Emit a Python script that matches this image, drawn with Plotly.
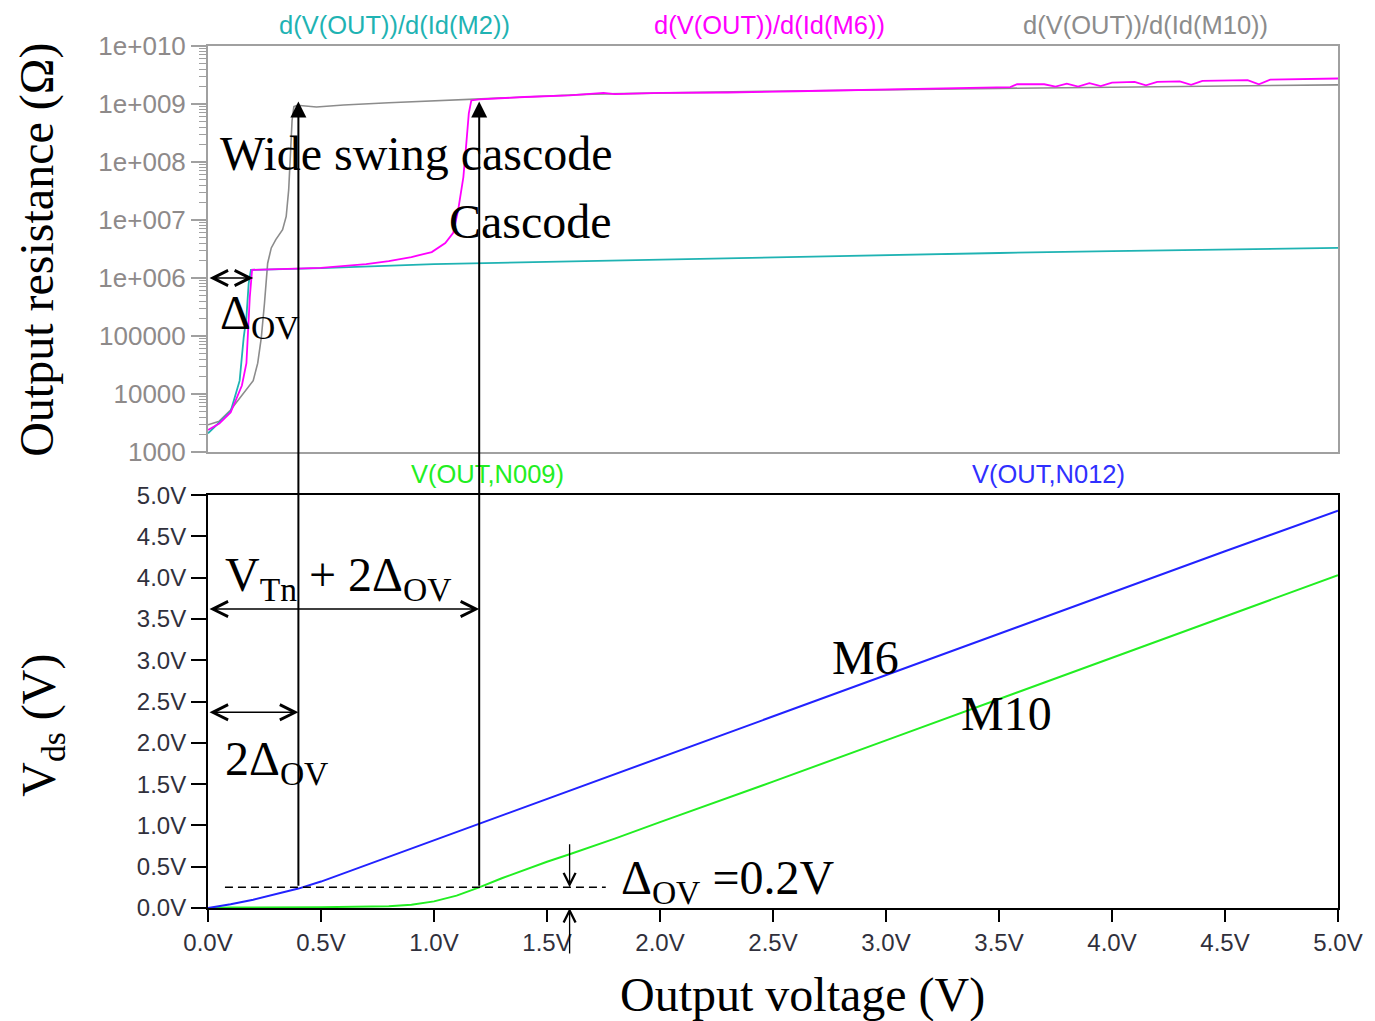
import math
import plotly.graph_objects as go

# ---------------- data ----------------
# top panel: output resistance (ohm) vs output voltage (V)
m2_x = [0, 0.05, 0.1, 0.14, 0.158, 0.17, 0.18, 0.19, 0.5, 1.0, 1.5, 2.0, 2.5, 3.0, 3.5, 4.0, 4.5, 5.0]
m2_r = [2100, 3200, 5000, 17000, 95000, 2.1e5, 8.1e5, 1.38e6, 1.48e6, 1.74e6, 1.9e6, 2.1e6,
        2.3e6, 2.5e6, 2.7e6, 2.9e6, 3.1e6, 3.3e6]

m6_x = [0, 0.05, 0.1, 0.15, 0.17, 0.185, 0.195, 0.5, 0.7, 0.8, 0.9, 0.99, 1.05, 1.085, 1.107,
        1.13, 1.143, 1.154, 1.165, 1.2, 1.4, 1.6, 1.75, 1.8, 2.0, 2.3, 2.6, 2.9, 3.1, 3.4,
        3.55, 3.58, 3.7, 3.75, 3.8, 3.85, 3.9, 3.95, 4.0, 4.1, 4.15, 4.2, 4.3, 4.35, 4.4,
        4.6, 4.65, 4.7, 4.95, 5.0]
m6_r = [2400, 3100, 4800, 14000, 34000, 4.7e5, 1.38e6, 1.5e6, 1.74e6, 1.95e6, 2.3e6, 2.8e6,
        4.0e6, 6.0e6, 1.5e7, 5.5e7, 2.1e8, 6.9e8, 1.15e9, 1.2e9, 1.32e9, 1.41e9, 1.55e9, 1.48e9,
        1.55e9, 1.58e9, 1.66e9, 1.74e9, 1.82e9, 1.91e9, 1.95e9, 2.19e9, 2.19e9, 2.0e9, 2.24e9,
        2.0e9, 2.29e9, 2.04e9, 2.34e9, 2.4e9, 2.09e9, 2.4e9, 2.45e9, 2.14e9, 2.51e9, 2.57e9,
        2.19e9, 2.63e9, 2.69e9, 2.75e9]

m10_x = [0, 0.05, 0.1, 0.17, 0.2, 0.22, 0.236, 0.25, 0.264, 0.28, 0.3, 0.33, 0.346, 0.357,
         0.365, 0.372, 0.38, 0.395, 0.48, 0.6, 0.8, 1.2, 1.7, 2.5, 3.0, 3.5, 4.0, 4.5, 5.0]
m10_r = [2950, 3400, 5300, 11700, 17000, 34000, 95000, 3.7e5, 1.8e6, 3.3e6, 4.6e6, 6.8e6,
         1.15e7, 3.3e7, 1.8e8, 5.2e8, 9.0e8, 9.5e8, 8.9e8, 9.6e8, 1.05e9, 1.23e9, 1.48e9,
         1.66e9, 1.78e9, 1.86e9, 1.95e9, 2.04e9, 2.14e9]

# bottom panel: Vds (V) vs output voltage (V)
n012_x = [0, 0.1, 0.2, 0.3, 0.4, 0.5, 0.6, 0.7, 0.8, 1.0, 1.2, 1.5, 2.0, 2.5, 3.0, 3.5, 4.0, 4.5, 5.0]
n012_v = [0, 0.045, 0.1, 0.165, 0.235, 0.32, 0.42, 0.52, 0.62, 0.82, 1.02, 1.32, 1.82, 2.32,
          2.82, 3.32, 3.82, 4.32, 4.81]

n009_x = [0, 0.1, 0.5, 0.8, 0.9, 1.0, 1.1, 1.2, 1.3, 1.4, 1.5, 1.6, 1.8, 2.0, 2.5, 3.0, 3.5,
          4.0, 4.5, 5.0]
n009_v = [0, 0.005, 0.01, 0.02, 0.04, 0.08, 0.15, 0.25, 0.36, 0.46, 0.56, 0.65, 0.84, 1.04,
          1.53, 2.03, 2.53, 3.03, 3.53, 4.03]

top_tick_vals = [1e3, 1e4, 1e5, 1e6, 1e7, 1e8, 1e9, 1e10]
top_tick_text = ["1000", "10000", "100000", "1e+006", "1e+007", "1e+008", "1e+009", "1e+010"]
v_ticks = [0, 0.5, 1.0, 1.5, 2.0, 2.5, 3.0, 3.5, 4.0, 4.5, 5.0]
v_tick_text = ["%.1fV" % v for v in v_ticks]

# annotation anchor values
x_wide = 0.4      # wide swing cascode knee (V)
x_casc = 1.2      # cascode knee (V)
x_ov = 0.2        # overdrive
v_level = 0.25    # dashed level
r_arrow = 1.1e9

# ---------------- styling ----------------
OFF = 8                      # page body margin in the browser
W, H = 1375 - OFF, 1021 - OFF
ML, MR, MT, MB = 200, 25, 46 - OFF, 113
TOP_D0 = 0.529
BOT_D1 = 0.479
SERIF = "Liberation Serif, Times New Roman, serif"
SANS = "Liberation Sans, Arial, sans-serif"
TOP_GRAY = "#a0a0a0"
BIG = 48

PW = W - ML - MR
PH = H - MT - MB


def px(xpix):
    return (xpix - OFF - ML) / PW


def py(ypix):
    return (H - MB - (ypix - OFF)) / PH


def top_frac(r):
    return TOP_D0 + (math.log10(r) - 3) / 7 * (1 - TOP_D0)


def frac_to_y2(f):
    # paper fraction expressed in bottom-axis (y2) data units
    return f / BOT_D1 * 5


fig = go.Figure()
fig.add_trace(go.Scatter(x=m10_x, y=m10_r, mode="lines", line=dict(color="#8c8c8c", width=1.6),
                         xaxis="x", yaxis="y", name="d(V(OUT))/d(Id(M10))"))
fig.add_trace(go.Scatter(x=m2_x, y=m2_r, mode="lines", line=dict(color="#1fb3b3", width=1.8),
                         xaxis="x", yaxis="y", name="d(V(OUT))/d(Id(M2))"))
fig.add_trace(go.Scatter(x=m6_x, y=m6_r, mode="lines", line=dict(color="#ff00ff", width=1.8),
                         xaxis="x", yaxis="y", name="d(V(OUT))/d(Id(M6))"))
fig.add_trace(go.Scatter(x=n009_x, y=n009_v, mode="lines", line=dict(color="#22ee22", width=2),
                         xaxis="x2", yaxis="y2", name="V(OUT,N009)"))
fig.add_trace(go.Scatter(x=n012_x, y=n012_v, mode="lines", line=dict(color="#2222ff", width=2),
                         xaxis="x2", yaxis="y2", name="V(OUT,N012)"))

minor_vals = [k * 10 ** e for e in range(3, 10) for k in range(2, 10)]

fig.update_layout(
    width=W, height=H, margin=dict(l=ML, r=MR, t=MT, b=MB),
    paper_bgcolor="white", plot_bgcolor="white", showlegend=False,
    xaxis=dict(domain=[0, 1], anchor="y", range=[0, 5], showticklabels=False, ticks="",
               showgrid=False, zeroline=False, showline=True, mirror=True,
               linecolor=TOP_GRAY, linewidth=2),
    yaxis=dict(domain=[TOP_D0, 1], anchor="x", type="log", range=[3, 10],
               tickmode="array", tickvals=top_tick_vals, ticktext=top_tick_text,
               ticks="outside", ticklen=15, tickwidth=1.5, tickcolor=TOP_GRAY,
               tickfont=dict(family=SANS, size=26, color="#8e8a8a"),
               minor=dict(tickmode="array", tickvals=minor_vals, ticks="outside", ticklen=7,
                          tickwidth=1, tickcolor=TOP_GRAY, showgrid=False),
               showgrid=False, zeroline=False, showline=True, mirror=True,
               linecolor=TOP_GRAY, linewidth=2, ticklabeloverflow="allow"),
    xaxis2=dict(domain=[0, 1], anchor="y2", range=[0, 5], tickmode="array",
                tickvals=v_ticks, ticktext=v_tick_text, ticks="outside", ticklen=12,
                tickwidth=1.5, tickcolor="black",
                tickfont=dict(family=SANS, size=24, color="#30303c"),
                showgrid=False, zeroline=False, showline=True, mirror=True,
                linecolor="black", linewidth=2, ticklabeloverflow="allow"),
    yaxis2=dict(domain=[0, BOT_D1], anchor="x2", range=[0, 5], tickmode="array",
                tickvals=v_ticks, ticktext=v_tick_text, ticks="outside", ticklen=15,
                tickwidth=1.5, tickcolor="black",
                tickfont=dict(family=SANS, size=24, color="#30303c"),
                showgrid=False, zeroline=False, showline=True, mirror=True,
                linecolor="black", linewidth=2, ticklabeloverflow="allow"),
)

ann = []


def text(t, x, y, size=BIG, color="black", font=SERIF, xanchor="left", angle=0, **kw):
    ann.append(dict(text=t, x=x, y=y, xref="paper", yref="paper", showarrow=False,
                    xanchor=xanchor, yanchor="middle", textangle=angle,
                    font=dict(family=font, size=size, color=color), **kw))


# clipped slide title at very top
text("<b>Mirrors</b>", px(708), py(-28), size=96, xanchor="center")

# series labels
text("d(V(OUT))/d(Id(M2))", px(396), py(25), size=25.5, color="#1fb3b3", font=SANS, xanchor="center")
text("d(V(OUT))/d(Id(M6))", px(775), py(25), size=25.5, color="#ff00ff", font=SANS, xanchor="center")
text("d(V(OUT))/d(Id(M10))", px(1155), py(25), size=25.5, color="#8c8c8c", font=SANS, xanchor="center")
text("V(OUT,N009)", px(490), py(474), size=25.5, color="#22ee22", font=SANS, xanchor="center")
text("V(OUT,N012)", px(1057), py(474), size=25.5, color="#3030ff", font=SANS, xanchor="center")

# axis titles
text("Output resistance (Ω)", px(35), py(250), angle=-90, xanchor="center")
text("V<sub>ds</sub> (V)", px(40), py(725), angle=-90, xanchor="center")
text("Output voltage (V)", px(809), py(995), xanchor="center")

# in-plot labels
text("Wide swing cascode", px(218), py(153))
text("Cascode", px(450), py(221))
text("Δ<sub>OV</sub>", px(218), py(316))
text("V<sub>Tn</sub> + 2Δ<sub>OV</sub>", px(223), py(578))
text("2Δ<sub>OV</sub>", px(223), py(762))
text("M6", px(837), py(657))
text("M10", px(967), py(713))
text("Δ<sub>OV</sub> =0.2V", px(623), py(881))

# vertical arrows spanning both panels (expressed in bottom-axis units)
for xv in (x_wide, x_casc):
    ann.append(dict(text="", x=xv, xref="x2", y=frac_to_y2(top_frac(r_arrow)), yref="y2",
                    ax=xv, axref="x2", ay=v_level, ayref="y2",
                    showarrow=True, arrowhead=2, arrowsize=1.6, arrowwidth=2,
                    arrowcolor="black", standoff=0, startstandoff=0))

# double-headed horizontal arrows
ann.append(dict(text="", x=x_ov, xref="x", y=6, yref="y", ax=0, axref="x", ay=6, ayref="y",
                showarrow=True, arrowhead=5, startarrowhead=5, arrowside="end+start",
                arrowsize=2, startarrowsize=2, arrowwidth=1.5, arrowcolor="black",
                standoff=0, startstandoff=0))
ann.append(dict(text="", x=x_casc, xref="x2", y=3.62, yref="y2", ax=0, axref="x2", ay=3.62,
                ayref="y2", showarrow=True, arrowhead=5, startarrowhead=5,
                arrowside="end+start", arrowsize=2, startarrowsize=2, arrowwidth=1.5,
                arrowcolor="black", standoff=0, startstandoff=0))
ann.append(dict(text="", x=x_wide, xref="x2", y=2.37, yref="y2", ax=0, axref="x2", ay=2.37,
                ayref="y2", showarrow=True, arrowhead=5, startarrowhead=5,
                arrowside="end+start", arrowsize=2, startarrowsize=2, arrowwidth=1.5,
                arrowcolor="black", standoff=0, startstandoff=0))

# small vertical arrows marking delta_ov
ann.append(dict(text="", x=1.6, xref="x2", y=v_level, yref="y2", ax=1.6, axref="x2", ay=0.79,
                ayref="y2", showarrow=True, arrowhead=5, arrowsize=1.8, arrowwidth=1.3,
                arrowcolor="black", standoff=0))
ann.append(dict(text="", x=1.6, xref="x2", y=0, yref="y2", ax=1.6, axref="x2", ay=-0.57,
                ayref="y2", showarrow=True, arrowhead=5, arrowsize=1.8, arrowwidth=1.3,
                arrowcolor="black", standoff=0))

fig.update_layout(annotations=ann)

fig.add_shape(type="line", xref="x2", yref="y2", x0=0.075, x1=1.76, y0=v_level, y1=v_level,
              line=dict(color="black", width=1.5, dash="8px,5px"))

fig.write_html("out.html")
